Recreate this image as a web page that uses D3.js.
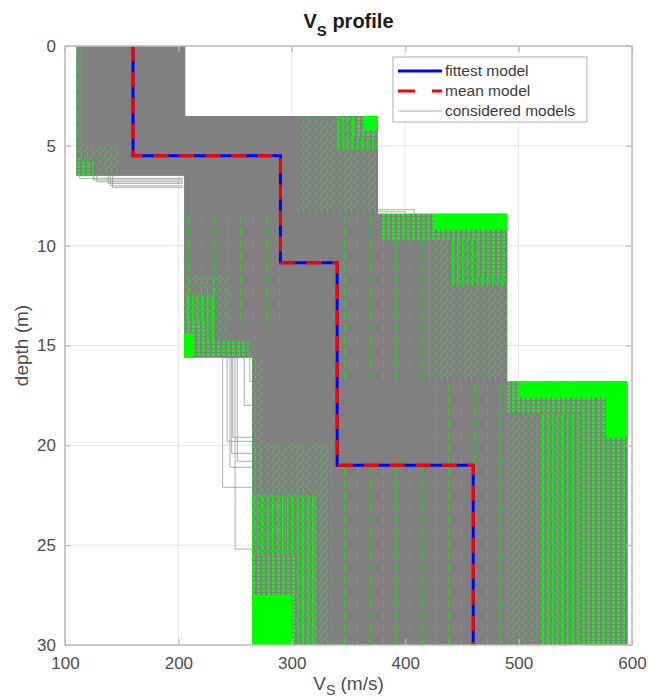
<!DOCTYPE html>
<html>
<head>
<meta charset="utf-8">
<script src="https://cdn.jsdelivr.net/npm/d3@7"></script>
<style>
  body { margin: 0; background: #fff; }
  svg { display: block; font-family: "Liberation Sans", Arial, Helvetica, sans-serif; }
</style>
</head>
<body>
<svg id="chart" width="648" height="700"></svg>
<script>
// tick values
var xTicks = [100, 200, 300, 400, 500, 600];
var yTicks = [0, 5, 10, 15, 20, 25, 30];

// fittest / mean model : Vs of each layer and depth of the layer bottom
var fittestVs = [160, 290, 340, 460];
var fittestBottoms = [5.5, 10.85, 21, 30];
var meanVs = [160, 290, 340, 460];
var meanBottoms = [5.5, 10.85, 21, 30];

// envelope of the considered models (max and min step profiles)
var envMaxVs = [206, 376, 490, 596];
var envMaxBottoms = [3.5, 8.4, 16.8, 30];
var envMinVs = [110, 205, 265];
var envMinBottoms = [6.5, 15.6, 30];

// zones where the green shows between the grey models
// [depth top, depth bottom, vs min, vs max, density]
var zones = [
  [0, 6.5, 110, 117, "light"],
  [5.0, 6.5, 110, 150, "light"],
  [5.8, 6.5, 110, 125, "heavy"],
  [3.5, 8.4, 305, 376, "light"],
  [3.5, 5.2, 340, 376, "medium"],
  [3.5, 4.6, 355, 376, "heavy"],
  [3.5, 4.2, 364, 376, "solid"],
  [8.4, 14, 205, 290, "sparse"],
  [8.4, 16.8, 345, 420, "sparse"],
  [16.8, 30, 420, 490, "sparse"],
  [21, 30, 335, 420, "sparse"],
  [8.4, 16.8, 420, 490, "light"],
  [8.4, 12, 440, 490, "medium"],
  [8.4, 9.7, 378, 490, "heavy"],
  [8.4, 11.5, 465, 490, "heavy"],
  [8.4, 9.2, 425, 490, "solid"],
  [11.5, 15.6, 205, 245, "light"],
  [12.5, 15.6, 205, 232, "medium"],
  [13.8, 15.6, 205, 225, "heavy"],
  [14.8, 15.6, 205, 262, "heavy"],
  [14.4, 15.6, 205, 213, "solid"],
  [15.6, 30, 265, 275, "light"],
  [20, 30, 265, 335, "light"],
  [22.5, 30, 265, 322, "medium"],
  [25.5, 30, 265, 305, "heavy"],
  [27.5, 30, 265, 300, "solid"],
  [16.8, 30, 490, 596, "light"],
  [17.5, 30, 520, 596, "medium"],
  [16.8, 30, 555, 596, "heavy"],
  [16.8, 18.4, 490, 596, "heavy"],
  [16.8, 17.6, 500, 596, "solid"],
  [16.8, 19.6, 577, 596, "solid"],
  [19.6, 30, 586, 596, "heavy"]
];

// considered models that leave the envelope, as [vs, depth] points
var strays = [
  [[113, 6.5], [113, 6.63], [204, 6.63]],
  [[125, 6.5], [125, 6.71], [204, 6.71]],
  [[128, 6.5], [128, 6.8], [204, 6.8]],
  [[138, 6.5], [138, 6.88], [204, 6.88]],
  [[140, 6.5], [140, 7.0], [204, 7.0]],
  [[142, 6.5], [142, 7.08], [204, 7.08]],
  [[376, 8.2], [408, 8.2], [408, 8.4]],
  [[376, 8.3], [400, 8.3], [400, 8.4]],
  [[265, 15.6], [239, 15.6], [239, 22.1], [265, 22.1]],
  [[243, 15.6], [243, 19.8], [265, 19.8]],
  [[245.5, 15.6], [245.5, 21.1], [265, 21.1]],
  [[247, 15.6], [247, 20.4], [265, 20.4]],
  [[248, 15.6], [248, 19.6], [265, 19.6]],
  [[250, 15.6], [250, 25.2], [265, 25.2]],
  [[252, 15.6], [252, 20.8], [265, 20.8]],
  [[258, 15.6], [258, 18.0], [265, 18.0]],
  [[263, 15.6], [263, 16.8], [265, 16.8]]
];

var legendItems = ["fittest model", "mean model", "considered models"];

var green = "#00ff00",
    grey = "#808080",
    boxColor = "#bcbcbc",
    labelColor = "#4d4d4d";

var svg = d3.select("svg#chart");

var x = d3.scaleLinear().domain([100, 600]).range([65, 632]);
var y = d3.scaleLinear().domain([0, 30]).range([46, 645]);

var line = d3.line()
    .x(function(d) { return x(d[0]); })
    .y(function(d) { return y(d[1]); });

// turn layer values into the corner points of a step profile
function stepPoints(vs, bottoms) {
  var pts = [[vs[0], 0]];
  for (var i = 0; i < vs.length; i++) {
    pts.push([vs[i], bottoms[i]]);
    if (i + 1 < vs.length) pts.push([vs[i + 1], bottoms[i]]);
  }
  return pts;
}

var envelope = stepPoints(envMaxVs, envMaxBottoms)
    .concat(stepPoints(envMinVs, envMinBottoms).reverse());

// ****************** patterns ***************************
var defs = svg.append("defs");

function pattern(id, w, h) {
  return defs.append("pattern").attr("id", id)
      .attr("patternUnits", "userSpaceOnUse").attr("width", w).attr("height", h);
}

var pSparse = pattern("sparse", 13, 12);
pSparse.append("rect").attr("x", 6).attr("width", 0.7).attr("height", 8)
    .attr("fill", green).attr("opacity", 0.8);

var pLight = pattern("light", 6, 8);
pLight.append("rect").attr("x", 3).attr("width", 0.9).attr("height", 5)
    .attr("fill", green).attr("opacity", 0.85);
pLight.append("rect").attr("y", 6.5).attr("width", 2.5).attr("height", 0.9)
    .attr("fill", green).attr("opacity", 0.85);

var pMedium = pattern("medium", 5, 6);
pMedium.append("rect").attr("x", 2).attr("width", 1.5).attr("height", 4.5).attr("fill", green);
pMedium.append("rect").attr("y", 4.5).attr("width", 5).attr("height", 0.8)
    .attr("fill", green).attr("opacity", 0.7);

var pHeavy = pattern("heavy", 5, 4);
pHeavy.append("rect").attr("width", 5).attr("height", 4).attr("fill", green);
pHeavy.append("rect").attr("width", 2).attr("height", 4).attr("fill", grey);
pHeavy.append("rect").attr("width", 5).attr("height", 1).attr("fill", grey);

defs.append("clipPath").attr("id", "envClip")
  .append("path").attr("d", line(envelope) + "Z");

// ****************** grid ***************************
var grid = svg.append("g").attr("class", "grid")
    .attr("stroke", "#e6e6e6").attr("stroke-width", 1);
grid.selectAll("line.gx").data(xTicks).enter().append("line")
    .attr("x1", function(d) { return x(d); }).attr("x2", function(d) { return x(d); })
    .attr("y1", y(0)).attr("y2", y(30));
grid.selectAll("line.gy").data(yTicks).enter().append("line")
    .attr("y1", function(d) { return y(d); }).attr("y2", function(d) { return y(d); })
    .attr("x1", x(100)).attr("x2", x(600));

// ****************** considered models ***************************
svg.append("path").attr("d", line(envelope) + "Z").attr("fill", green);
svg.append("path").attr("d", line(envelope) + "Z").attr("fill", grey);

var order = { sparse: 0, light: 1, medium: 2, heavy: 3, solid: 4 };
zones.sort(function(a, b) { return order[a[4]] - order[b[4]]; });

svg.append("g").attr("clip-path", "url(#envClip)")
  .selectAll("rect").data(zones).enter().append("rect")
    .attr("x", function(d) { return x(d[2]); })
    .attr("y", function(d) { return y(d[0]); })
    .attr("width", function(d) { return x(d[3]) - x(d[2]); })
    .attr("height", function(d) { return y(d[1]) - y(d[0]); })
    .attr("fill", function(d) { return d[4] == "solid" ? green : "url(#" + d[4] + ")"; });

svg.append("g").selectAll("path").data(strays).enter().append("path")
    .attr("d", line)
    .attr("fill", "none")
    .attr("stroke", "#8a8a8a")
    .attr("stroke-width", 0.7);

// ****************** fittest and mean ***************************
svg.append("path")
    .attr("d", line(stepPoints(fittestVs, fittestBottoms)))
    .attr("fill", "none").attr("stroke", "#0000ff").attr("stroke-width", 3);
svg.append("path")
    .attr("d", line(stepPoints(meanVs, meanBottoms)))
    .attr("fill", "none").attr("stroke", "#ff0000").attr("stroke-width", 3)
    .attr("stroke-dasharray", "15,11");

// ****************** axes ***************************
svg.append("rect")
    .attr("x", x(100)).attr("y", y(0))
    .attr("width", x(600) - x(100)).attr("height", y(30) - y(0))
    .attr("fill", "none").attr("stroke", boxColor).attr("stroke-width", 1.5);

function styleAxis(g) {
  g.select(".domain").remove();
  g.selectAll(".tick line").attr("stroke", boxColor).attr("stroke-width", 1.2);
  g.selectAll(".tick text").attr("fill", labelColor).attr("font-size", 17)
    .attr("font-family", "Liberation Sans, Arial, sans-serif");
}

svg.append("g").attr("transform", "translate(0," + y(30) + ")")
    .call(d3.axisBottom(x).tickValues(xTicks).tickSizeInner(-6).tickSizeOuter(0).tickPadding(12))
    .call(styleAxis);
svg.append("g").attr("transform", "translate(0," + y(0) + ")")
    .call(d3.axisTop(x).tickValues(xTicks).tickSizeInner(-6).tickSizeOuter(0).tickFormat(""))
    .call(styleAxis);
svg.append("g").attr("transform", "translate(" + x(100) + ",0)")
    .call(d3.axisLeft(y).tickValues(yTicks).tickSizeInner(-6).tickSizeOuter(0).tickPadding(9))
    .call(styleAxis);
svg.append("g").attr("transform", "translate(" + x(600) + ",0)")
    .call(d3.axisRight(y).tickValues(yTicks).tickSizeInner(-6).tickSizeOuter(0).tickFormat(""))
    .call(styleAxis);

// titles
var title = svg.append("text")
    .attr("x", (x(100) + x(600)) / 2).attr("y", 28)
    .attr("text-anchor", "middle").attr("font-weight", "bold")
    .attr("font-size", 20).attr("fill", "#1a1a1a");
title.append("tspan").text("V");
title.append("tspan").attr("font-size", 15).attr("dy", 8).text("S");
title.append("tspan").attr("dy", -8).text(" profile");

var xlab = svg.append("text")
    .attr("x", (x(100) + x(600)) / 2).attr("y", 690)
    .attr("text-anchor", "middle").attr("font-size", 19).attr("fill", labelColor);
xlab.append("tspan").text("V");
xlab.append("tspan").attr("font-size", 14).attr("dy", 5).text("S");
xlab.append("tspan").attr("dy", -5).text(" (m/s)");

svg.append("text")
    .attr("transform", "translate(28," + (y(0) + y(30)) / 2 + ") rotate(-90)")
    .attr("text-anchor", "middle").attr("font-size", 19).attr("fill", labelColor)
    .text("depth (m)");

// ****************** legend ***************************
var legend = svg.append("g").attr("transform", "translate(393,57)");
legend.append("rect").attr("width", 194).attr("height", 65)
    .attr("fill", "#fff").attr("stroke", boxColor).attr("stroke-width", 1.2);

var legendRows = legend.selectAll("g.legend").data(legendItems).enter().append("g")
    .attr("class", "legend")
    .attr("transform", function(d, i) { return "translate(0," + (14 + i * 20) + ")"; });

legendRows.append("line")
    .attr("x1", 5).attr("x2", 49).attr("y1", 0).attr("y2", 0)
    .attr("stroke", function(d, i) { return ["#0000ff", "#ff0000", "#9a9a9a"][i]; })
    .attr("stroke-width", function(d, i) { return i < 2 ? 3 : 0.8; })
    .attr("stroke-dasharray", function(d, i) { return i == 1 ? "17,17" : null; });

legendRows.append("text")
    .attr("x", 52).attr("y", 0).attr("dy", "0.35em")
    .attr("font-size", 15.5).attr("fill", "#3a3a3a")
    .text(function(d) { return d; });
</script>
</body>
</html>
